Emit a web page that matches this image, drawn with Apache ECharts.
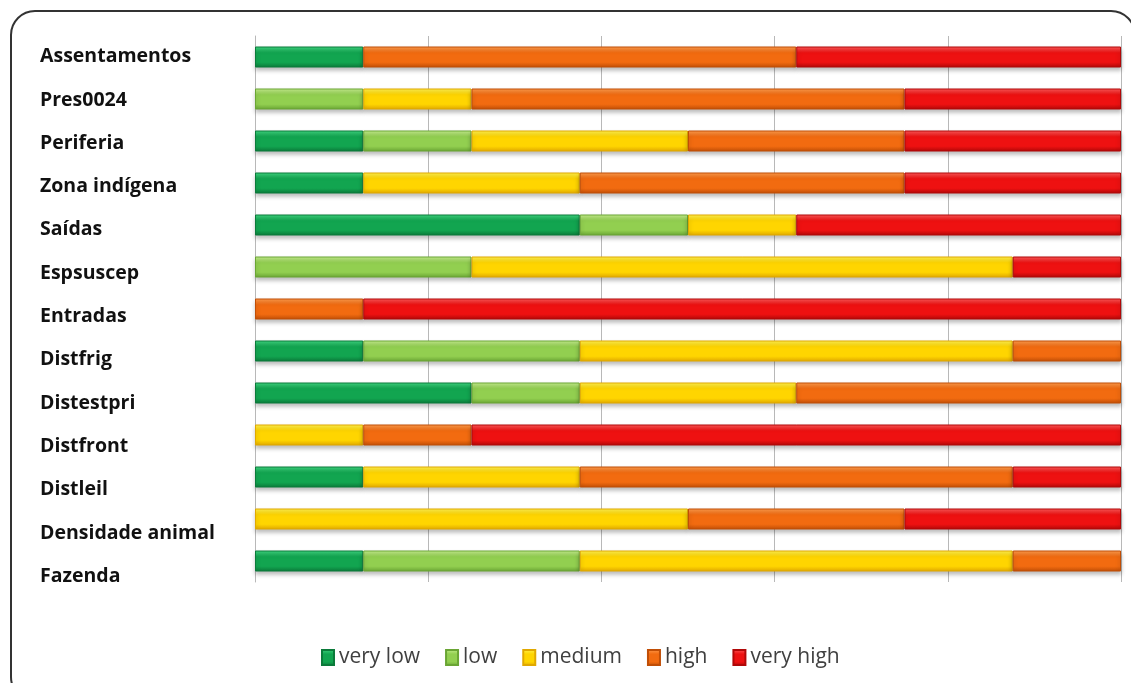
<!DOCTYPE html>
<html>
<head>
<meta charset="utf-8">
<script src="https://cdn.jsdelivr.net/npm/echarts@6/dist/echarts.min.js"></script>
<style>
  html, body { margin: 0; padding: 0; background: #fff; }
  #chart { width: 1131px; height: 683px; }
</style>
</head>
<body>
<div id="chart"></div>
<script>
// Variables, top to bottom
const categories = ['Assentamentos', 'Pres0024', 'Periferia', 'Zona indígena', 'Saídas', 'Espsuscep',
  'Entradas', 'Distfrig', 'Distestpri', 'Distfront', 'Distleil', 'Densidade animal', 'Fazenda'];

// Share (%) of each class per variable
const veryLow  = [12.5, 0, 12.5, 12.5, 37.5, 0, 0, 12.5, 25, 0, 12.5, 0, 12.5];
const low      = [0, 12.5, 12.5, 0, 12.5, 25, 0, 25, 12.5, 0, 0, 0, 25];
const medium   = [0, 12.5, 25, 25, 12.5, 62.5, 0, 50, 25, 12.5, 25, 50, 50];
const high     = [50, 50, 25, 37.5, 0, 0, 12.5, 12.5, 37.5, 12.5, 50, 25, 12.5];
const veryHigh = [37.5, 25, 25, 25, 37.5, 12.5, 87.5, 0, 0, 75, 12.5, 25, 0];

const classNames = ['very low', 'low', 'medium', 'high', 'very high'];
const xTicks = [0, 20, 40, 60, 80, 100];

// light / base / dark tones for the bevelled look
const palette = [
  ['#3fd680', '#12a550', '#0b7a3a'],
  ['#c6ee8e', '#92cf50', '#6aa534'],
  ['#fff250', '#ffd500', '#e0a800'],
  ['#ff9c4e', '#f26b10', '#c04e06'],
  ['#ff5a5a', '#ee1111', '#b00808']
];

function bevel(c) {
  return new echarts.graphic.LinearGradient(0, 0, 0, 1, [
    { offset: 0, color: c[0] },
    { offset: 0.3, color: c[1] },
    { offset: 0.75, color: c[1] },
    { offset: 1, color: c[2] }
  ]);
}

const values = [veryLow, low, medium, high, veryHigh];

const series = values.map((arr, i) => ({
  name: classNames[i],
  type: 'bar',
  stack: 'total',
  xAxisIndex: 0,
  yAxisIndex: 0,
  barWidth: '50%',
  data: arr.map(v => (v === 0 ? null : v)),
  itemStyle: {
    color: bevel(palette[i]),
    borderColor: palette[i][2],
    borderWidth: 1,
    shadowColor: 'rgba(0,0,0,0.25)',
    shadowBlur: 4,
    shadowOffsetY: 3
  },
  emphasis: { disabled: true }
}));

const chart = echarts.init(document.getElementById('chart'), null, { renderer: 'canvas' });
chart.setOption({
  animation: false,
  backgroundColor: '#ffffff',
  graphic: [{
    type: 'rect',
    shape: { x: 11, y: 11, width: 1124, height: 690, r: 24 },
    style: { fill: 'none', stroke: '#333333', lineWidth: 2 },
    z: -1
  }],
  grid: [
    { left: 255, right: 10, top: 36, bottom: 101 },
    { left: 255, right: 10, top: 35, bottom: 85 }
  ],
  xAxis: [
    {
      gridIndex: 0, type: 'value', min: xTicks[0], max: xTicks[xTicks.length - 1], interval: 20,
      axisLabel: { show: false }, axisTick: { show: false }, axisLine: { show: false },
      splitLine: { show: true, lineStyle: { color: '#b8b8b8', width: 1 } }
    },
    {
      gridIndex: 1, type: 'value', min: 0, max: 100, show: false
    }
  ],
  yAxis: [
    {
      gridIndex: 0, type: 'category', data: categories, inverse: true,
      axisLabel: { show: false }, axisTick: { show: false },
      axisLine: { show: true, lineStyle: { color: '#b8b8b8' } }
    },
    {
      gridIndex: 1, type: 'category', data: categories, inverse: true,
      axisLine: { show: false }, axisTick: { show: false },
      axisLabel: {
        align: 'left', margin: 215,
        fontFamily: 'Open Sans', fontWeight: 'bold', fontSize: 19.5, color: '#111111'
      }
    }
  ],
  legend: {
    data: classNames,
    bottom: 10,
    left: 316,
    itemWidth: 12,
    itemHeight: 15,
    itemGap: 25,
    textStyle: { fontFamily: 'Open Sans', fontSize: 21, color: '#404040' },
    icon: 'rect'
  },
  series: series
});
</script>
</body>
</html>
